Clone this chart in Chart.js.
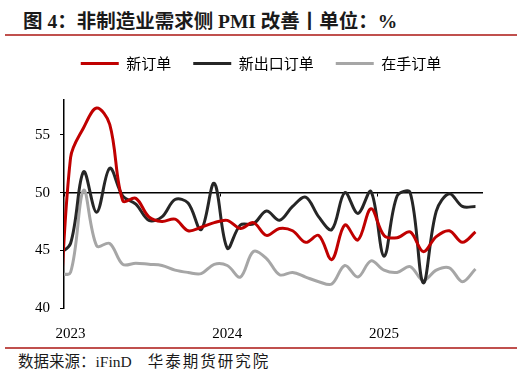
<!DOCTYPE html>
<html>
<head>
<meta charset="utf-8">
<script src="https://cdn.jsdelivr.net/npm/chart.js@4.4.1/dist/chart.umd.min.js"></script>
<style>
  html, body { margin: 0; padding: 0; background: #fff; }
  body { width: 522px; height: 374px; position: relative; overflow: hidden; }
  #title { position: absolute; left: 23px; top: 5px; line-height: 22px; font: bold 19.5px "Liberation Serif", "Noto Sans CJK SC", serif; color: #1a1a1a; white-space: nowrap; }
  .rule { position: absolute; left: 5px; width: 512px; height: 2px; background: #c0504d; }
  #chartBox { position: absolute; left: 0; top: 34px; width: 522px; height: 306px; }
  #source { position: absolute; left: 18px; top: 349px; line-height: 18px; font: 15.5px "Liberation Serif", "Noto Sans CJK SC", serif; color: #1a1a1a; white-space: nowrap; }
  #source span { margin-left: 16px; letter-spacing: 2px; }
</style>
</head>
<body>
<div id="title">图 4：非制造业需求侧 PMI 改善丨单位：%</div>
<div class="rule" style="top:34px"></div>
<div id="chartBox"><canvas id="pmiChart"></canvas></div>
<div class="rule" style="top:347px"></div>
<div id="source">数据来源：iFinD<span>华泰期货研究院</span></div>
<script>
// monthly data, Dec 2022 only feeds the curve entering the axis
const months = [
  "2022-12",
  "2023-01", "2023-02", "2023-03", "2023-04", "2023-05", "2023-06",
  "2023-07", "2023-08", "2023-09", "2023-10", "2023-11", "2023-12",
  "2024-01", "2024-02", "2024-03", "2024-04", "2024-05", "2024-06",
  "2024-07", "2024-08", "2024-09", "2024-10", "2024-11", "2024-12",
  "2025-01", "2025-02", "2025-03", "2025-04", "2025-05", "2025-06",
  "2025-07", "2025-08",
];
const newOrders = [
  35.0,
  53.0, 55.6, 57.3, 55.9, 49.3, 49.5, 47.9, 47.5, 47.7, 46.7, 47.0, 47.4,
  47.6, 46.9, 47.4, 46.3, 46.9, 46.7, 45.7, 46.3, 44.2, 47.2, 45.9, 48.6,
  46.3, 46.1, 46.6, 44.9, 46.2, 46.7, 45.7, 46.6,
];
const newExportOrders = [
  44.6,
  45.6, 51.8, 48.3, 52.1, 49.7, 49.0, 47.6, 47.9, 49.4, 49.1, 46.8, 50.8,
  45.2, 47.2, 47.3, 48.4, 47.6, 48.8, 49.6, 47.9, 46.8, 50.0, 48.2, 50.1,
  44.5, 49.7, 50.0, 42.2, 48.4, 49.9, 48.8, 48.8,
];
const backlogOrders = [
  43.0,
  43.1, 50.2, 45.4, 45.6, 43.8, 43.9, 43.8, 43.7, 43.3, 43.1, 43.0, 43.8,
  43.7, 42.7, 44.9, 44.3, 42.9, 43.1, 42.7, 42.3, 42.1, 43.7, 42.7, 44.1,
  43.3, 43.1, 43.6, 42.4, 43.3, 43.5, 42.3, 43.4,
];
const seriesNames = ["新订单", "新出口订单", "在手订单"];
const seriesColors = ["#c00000", "#262626", "#a6a6a6"];
const yTicks = [40, 45, 50, 55];
const yMin = 40;
const yMax = 58;
const refLevel = 50;

// x = months counted from Jan 2023
const firstJan = months.indexOf("2023-01");
const xMin = -0.5;
const xMax = months.length - 1 - firstJan + 0.5;
const yearStarts = [];
months.forEach((m, i) => {
  if (m.endsWith("-01")) yearStarts.push({ value: i - firstJan, label: m.slice(0, 4) });
});

const toPoints = (values) => values.map((v, i) => ({ x: i - firstJan, y: v }));
const makeSet = (name, values, color) => ({
  label: name,
  data: toPoints(values),
  borderColor: color,
  backgroundColor: color,
  pointBorderColor: color,
  borderWidth: 3,
  pointBorderWidth: 3,
  pointRadius: 0,
  tension: 0.35,
  capBezierPoints: false,
  clip: 0,
});

const serifFont = { family: "'Liberation Serif', 'Times New Roman', serif", size: 15 };

new Chart(document.getElementById("pmiChart"), {
  type: "line",
  data: {
    datasets: [
      makeSet(seriesNames[0], newOrders, seriesColors[0]),
      makeSet(seriesNames[1], newExportOrders, seriesColors[1]),
      makeSet(seriesNames[2], backlogOrders, seriesColors[2]),
    ],
  },
  options: {
    responsive: true,
    maintainAspectRatio: false,
    animation: false,
    layout: { padding: 0 },
    plugins: {
      legend: {
        position: "top",
        labels: {
          usePointStyle: true,
          pointStyle: "line",
          pointStyleWidth: 38,
          padding: 22,
          color: "#000",
          font: { family: "'Noto Sans CJK SC', sans-serif", size: 15 },
        },
      },
      tooltip: { enabled: false },
    },
    scales: {
      x: {
        type: "linear",
        position: "bottom",
        min: xMin,
        max: xMax,
        grid: { display: false },
        border: { display: false },
        afterBuildTicks: (s) => { s.ticks = yearStarts.map((t) => ({ value: t.value })); },
        ticks: {
          padding: 9,
          color: "#000",
          font: serifFont,
          maxRotation: 0,
          autoSkip: false,
          callback: (v) => (yearStarts.find((t) => t.value === v) || {}).label,
        },
        afterFit: (s) => { s.height = 31.7; },
      },
      // horizontal line at 50 carrying the year tick marks
      xLine: {
        type: "linear",
        axis: "x",
        position: { y: refLevel },
        min: xMin,
        max: xMax,
        border: { display: true, color: "#000", width: 1.5 },
        grid: { display: true, drawOnChartArea: false, drawTicks: true, tickLength: 3, color: "#000", lineWidth: 1 },
        afterBuildTicks: (s) => { s.ticks = yearStarts.map((t) => ({ value: t.value - 0.5 })); },
        ticks: { display: false },
      },
      // empty band between legend and plot
      xTop: {
        type: "linear",
        axis: "x",
        position: "top",
        min: 0,
        max: 1,
        grid: { display: false },
        border: { display: false },
        ticks: { display: false },
        afterFit: (s) => { s.height = 19; },
      },
      y: {
        type: "linear",
        position: "left",
        min: yMin,
        max: yMax,
        border: { display: true, color: "#000", width: 1.5 },
        grid: { display: true, drawOnChartArea: false, tickLength: 4, color: "#000", lineWidth: 1 },
        afterBuildTicks: (s) => { s.ticks = yTicks.map((v) => ({ value: v })); },
        ticks: { padding: 10, color: "#000", font: serifFont },
        afterFit: (s) => { s.width = 64; },
      },
      // empty margin right of the plot
      yRight: {
        type: "linear",
        axis: "y",
        position: "right",
        min: 0,
        max: 1,
        grid: { display: false },
        border: { display: false },
        ticks: { display: false },
        afterFit: (s) => { s.width = 40; },
      },
    },
  },
});
</script>
</body>
</html>
